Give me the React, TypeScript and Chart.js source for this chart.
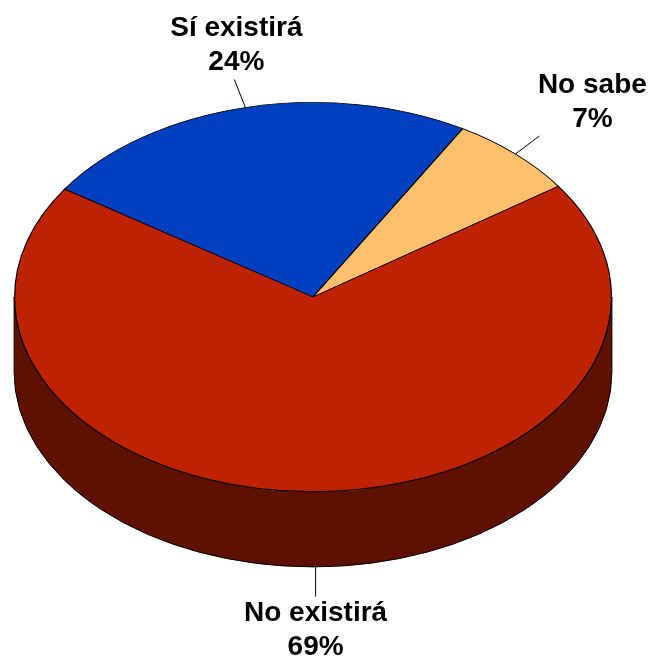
import React, { useEffect, useRef } from "react";
import { Chart, registerables } from "chart.js";

Chart.register(...registerables);

const categories = ["Sí existirá", "No sabe", "No existirá"];
const values = [24, 7, 69];
const sliceColors = ["#0040C0", "#FFC06E", "#BE2200"];
const sideColor = "#5F1100";
const startAngle = -56.3;
const labelFont = 'bold 28px "Liberation Sans", Arial, sans-serif';

// view of the pie: squash factor, extrusion depth and ellipse centre
const squash = 0.652;
const depth = 75;
const centerY = 297;
// leader line vector from each slice's rim, and label anchor from the leader's end
const leaderVectors = [[-11, -28], [24, -18], [0, 30]];
const labelOffsets = [[2, -51], [53, -51], [0, 17]];
const lineGap = 34;

const pie3d = {
  id: "pie3d",
  beforeDatasetsDraw(chart: any) {
    const { ctx } = chart;
    const arc = chart.getDatasetMeta(0).data[0];
    const cx = arc.x;
    const rx = arc.outerRadius + 0.5;
    const ry = rx * squash;
    ctx.save();
    ctx.beginPath();
    ctx.ellipse(cx, centerY + depth, rx, ry, 0, 0, Math.PI);
    ctx.lineTo(cx - rx, centerY);
    ctx.ellipse(cx, centerY, rx, ry, 0, Math.PI, 0, true);
    ctx.closePath();
    ctx.fillStyle = sideColor;
    ctx.fill();
    ctx.strokeStyle = "#000";
    ctx.lineWidth = 1;
    ctx.stroke();
    ctx.restore();

    ctx.save();
    ctx.translate(cx, centerY);
    ctx.scale(1, squash);
    ctx.translate(-cx, -arc.y);
  },
  afterDatasetsDraw(chart: any) {
    const { ctx } = chart;
    ctx.restore();
    const meta = chart.getDatasetMeta(0);
    meta.data.forEach((arc: any, i: number) => {
      const mid = (arc.startAngle + arc.endAngle) / 2;
      const x0 = arc.x + Math.cos(mid) * arc.outerRadius;
      const sin = Math.sin(mid);
      const y0 = centerY + sin * arc.outerRadius * squash + (sin > 0.5 ? depth : 0);
      const [dx, dy] = leaderVectors[i];
      ctx.save();
      ctx.strokeStyle = "#000";
      ctx.lineWidth = 1;
      ctx.beginPath();
      ctx.moveTo(x0, y0);
      ctx.lineTo(x0 + dx, y0 + dy);
      ctx.stroke();
      ctx.fillStyle = "#000";
      ctx.font = labelFont;
      ctx.textAlign = "center";
      ctx.textBaseline = "middle";
      const lx = x0 + dx + labelOffsets[i][0];
      const ly = y0 + dy + labelOffsets[i][1];
      ctx.fillText(categories[i], lx, ly);
      ctx.fillText(values[i] + "%", lx, ly + lineGap);
      ctx.restore();
    });
  },
};

export default function App() {
  const ref = useRef<HTMLCanvasElement>(null);
  useEffect(() => {
    const chart = new Chart(ref.current!, {
      type: "pie",
      data: {
        labels: categories,
        datasets: [
          {
            data: values,
            backgroundColor: sliceColors,
            borderColor: "#000",
            borderWidth: 1.2,
            clip: false,
          } as any,
        ],
      },
      options: {
        animation: false,
        responsive: false,
        rotation: startAngle,
        layout: { padding: { left: 14, right: 39, top: 0, bottom: 0 } },
        plugins: { legend: { display: false }, tooltip: { enabled: false } },
      },
      plugins: [pie3d],
    });
    return () => chart.destroy();
  }, []);
  return (
    <canvas
      ref={ref}
      width={651}
      height={660}
      style={{ position: "fixed", left: 0, top: 0, width: 651, height: 660, background: "#fff" }}
    />
  );
}
